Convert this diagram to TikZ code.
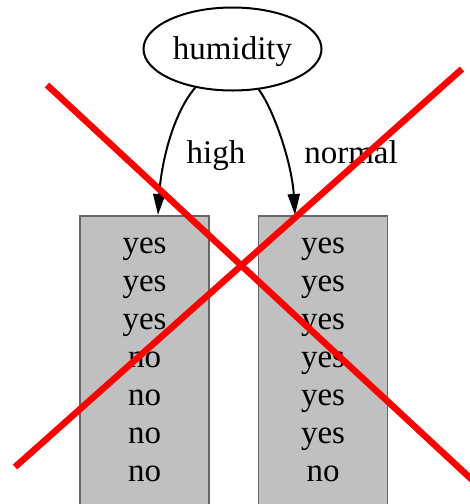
\documentclass[tikz,border=0pt]{standalone}
\usepackage{fontspec}
\setmainfont{Liberation Serif}
\usetikzlibrary{arrows.meta,shapes.geometric}
\definecolor{leafgray}{HTML}{C0C0C0}
\definecolor{leafedge}{HTML}{666666}
\tikzset{
  every node/.style={font=\fontsize{33}{38}\selectfont, inner sep=0pt},
  attr/.style={draw=black, line width=2pt, ellipse, minimum width=178pt, minimum height=83pt,
    text height=24pt, text depth=4pt},
  leaf/.style={draw=leafedge, fill=leafgray, line width=1.5pt, rectangle,
    minimum width=129pt, minimum height=300pt, anchor=north},
  branch/.style={draw=black, line width=2pt, -{Triangle[length=21pt,width=12pt]}},
  brlabel/.style={anchor=base},
  cross/.style={draw=red, line width=6.5pt, line cap=butt}
}
\begin{document}
\begin{tikzpicture}[x=1pt, y=-1pt]
  \useasboundingbox (0,0) rectangle (470,504);
  \clip (0,0) rectangle (470,504);
  \fill[white] (0,0) rectangle (470,504);

  % decision node
  \node[attr] (hum) at (232.5,49) {humidity};

  % leaves
  \node[leaf] (high) at (144.5,215) {\begin{tabular}{@{}c@{}}yes\\yes\\yes\\no\\no\\no\\no\\[12pt]\end{tabular}};
  \node[leaf] (normal) at (323,215) {\begin{tabular}{@{}c@{}}yes\\yes\\yes\\yes\\yes\\yes\\no\\[12pt]\end{tabular}};

  % branches
  \draw[branch] (hum.226) .. controls (172,115) and (161,165) .. ([xshift=13.5pt]high.north);
  \draw[branch] (hum.303) .. controls (275,112) and (292,165) .. ([xshift=-28pt]normal.north);
  \node[brlabel] (lhigh) at (216,163) {high};
  \node[brlabel] (lnormal) at (351,163) {normal};

  % crossed out
  \coordinate (c1a) at (47,85);
  \coordinate (c1b) at (482,489);
  \coordinate (c2a) at (462,69);
  \coordinate (c2b) at (15,467);
  \draw[cross] (c1a) -- (c1b);
  \draw[cross] (c2a) -- (c2b);
\end{tikzpicture}
\end{document}
